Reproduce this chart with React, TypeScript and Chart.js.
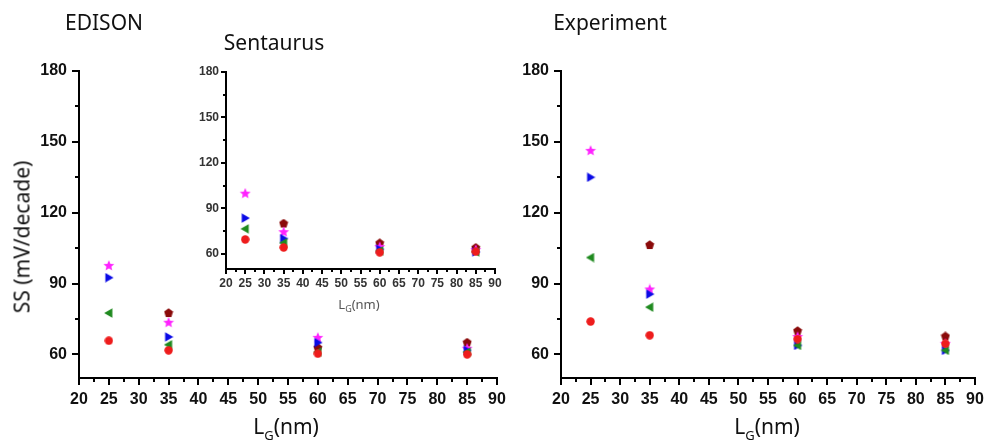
import React, { useEffect, useRef } from "react";
import { Chart, registerables } from "chart.js";

Chart.register(...registerables);

// Gate lengths (nm) at which SS was extracted
const gateLengths = [25, 35, 60, 85];

// Axis tick values
const xMajorTicks = [20, 25, 30, 35, 40, 45, 50, 55, 60, 65, 70, 75, 80, 85, 90];
const xMinorTicks = [22.5, 27.5, 32.5, 37.5, 42.5, 47.5, 52.5, 57.5, 62.5, 67.5, 72.5, 77.5, 82.5, 87.5];
const yMajorTicks = [60, 90, 120, 150, 180];
const yMinorTicks = [75, 105, 135, 165];

// EDISON simulation, SS (mV/decade)
const edisonRed = [65.8, 61.7, 60.3, 60.0];
const edisonGreen = [77.5, 64.1, 61.0, 61.0];
const edisonBlue = [92.5, 67.4, 65.0, 61.7];
const edisonMagenta = [97.5, 73.4, 67.0, 62.4];
const edisonMaroon = [null, 77.5, 62.8, 65.0];

// Sentaurus simulation, SS (mV/decade)
const sentaurusRed = [69.5, 64.2, 61.0, 61.5];
const sentaurusGreen = [76.5, 67.3, 62.0, 61.3];
const sentaurusBlue = [83.6, 70.1, 63.0, 61.3];
const sentaurusMagenta = [99.7, 74.3, 64.5, 62.5];
const sentaurusMaroon = [null, 80.0, 67.0, 64.0];

// Measured devices, SS (mV/decade)
const experimentRed = [73.9, 68.1, 66.5, 64.5];
const experimentGreen = [101.0, 80.0, 63.8, 61.7];
const experimentBlue = [135.0, 85.5, 63.8, 61.7];
const experimentMagenta = [146.2, 87.5, 67.4, 64.5];
const experimentMaroon = [null, 106.3, 69.9, 67.6];

const RED = "#ee1c1c";
const GREEN = "#1f8a1f";
const BLUE = "#0a0ae6";
const MAGENTA = "#ff22ff";
const MAROON = "#8a0a0a";

type Shape = "circle" | "left" | "right" | "star" | "pentagon";

function makeMarker(shape: Shape, color: string, size: number): HTMLCanvasElement {
  const c = document.createElement("canvas");
  c.width = size;
  c.height = size;
  const ctx = c.getContext("2d")!;
  ctx.fillStyle = color;
  const cx = size / 2;
  const cy = size / 2;
  const r = size / 2 - 0.3;
  ctx.beginPath();
  if (shape === "circle") {
    ctx.arc(cx, cy, r, 0, Math.PI * 2);
  } else if (shape === "left") {
    ctx.moveTo(cx - r, cy);
    ctx.lineTo(cx + r * 0.75, cy - r);
    ctx.lineTo(cx + r * 0.75, cy + r);
  } else if (shape === "right") {
    ctx.moveTo(cx + r, cy);
    ctx.lineTo(cx - r * 0.75, cy - r);
    ctx.lineTo(cx - r * 0.75, cy + r);
  } else if (shape === "star") {
    for (let i = 0; i < 10; i++) {
      const rr = i % 2 === 0 ? r : r * 0.45;
      const a = -Math.PI / 2 + (i * Math.PI) / 5;
      const px = cx + rr * Math.cos(a);
      const py = cy + rr * Math.sin(a);
      if (i === 0) ctx.moveTo(px, py);
      else ctx.lineTo(px, py);
    }
  } else {
    for (let i = 0; i < 5; i++) {
      const a = -Math.PI / 2 + (i * 2 * Math.PI) / 5;
      const px = cx + r * Math.cos(a);
      const py = cy + r * 1.02 * Math.sin(a);
      if (i === 0) ctx.moveTo(px, py);
      else ctx.lineTo(px, py);
    }
  }
  ctx.closePath();
  ctx.fill();
  return c;
}

function buildDatasets(series: (number | null)[][]) {
  const styles: [Shape, string, number][] = [
    ["circle", RED, 9],
    ["left", GREEN, 10],
    ["right", BLUE, 10],
    ["star", MAGENTA, 12],
    ["pentagon", MAROON, 10],
  ];
  return series.map((vals, i) => {
    const [shape, color, size] = styles[i];
    return {
      data: gateLengths.map((x, j) => ({ x, y: vals[j] })),
      pointStyle: makeMarker(shape, color, size),
      showLine: false,
      borderColor: color,
      backgroundColor: color,
    };
  });
}

// Origin-style outward tick marks (major + minor)
const axisTicks = {
  id: "axisTicks",
  afterDraw(chart: any, _args: any, opts: any) {
    const { ctx } = chart;
    const xs = chart.scales.x;
    const ys = chart.scales.y;
    ctx.save();
    ctx.strokeStyle = "#000";
    ctx.lineWidth = opts.width;
    const bottom = chart.chartArea.bottom;
    const left = chart.chartArea.left;
    const drawX = (v: number, len: number) => {
      const px = Math.round(xs.getPixelForValue(v));
      ctx.beginPath();
      ctx.moveTo(px, bottom);
      ctx.lineTo(px, bottom + len);
      ctx.stroke();
    };
    const drawY = (v: number, len: number) => {
      const py = Math.round(ys.getPixelForValue(v));
      ctx.beginPath();
      ctx.moveTo(left, py);
      ctx.lineTo(left - len, py);
      ctx.stroke();
    };
    xMajorTicks.forEach((v) => drawX(v, opts.major));
    xMinorTicks.forEach((v) => drawX(v, opts.minor));
    yMajorTicks.forEach((v) => drawY(v, opts.major));
    yMinorTicks.forEach((v) => drawY(v, opts.minor));
    ctx.restore();
  },
};

interface PanelProps {
  series: (number | null)[][];
  left: number;
  top: number;
  width: number;
  height: number;
  pad: { left: number; top: number; right: number; bottom: number };
  fontSize: number;
  labelPad: number;
  labelColor: string;
  tickMajor: number;
  tickMinor: number;
}

function Panel(p: PanelProps) {
  const ref = useRef<HTMLCanvasElement>(null);
  useEffect(() => {
    const font = { family: "'Liberation Sans', Arial, sans-serif", size: p.fontSize, weight: "bold" as const };
    // invisible tick marks provide the label gap (drawn ticks come from the plugin)
    const hiddenTicks = {
      drawOnChartArea: false,
      drawTicks: true,
      tickLength: p.labelPad,
      tickColor: "rgba(0,0,0,0)",
      color: "rgba(0,0,0,0)",
    };
    const chart = new Chart(ref.current!, {
      type: "scatter",
      data: { datasets: buildDatasets(p.series) as any },
      plugins: [axisTicks],
      options: {
        responsive: false,
        animation: false,
        layout: { padding: { left: 0, top: p.pad.top, right: p.pad.right, bottom: 0 } },
        plugins: {
          legend: { display: false },
          tooltip: { enabled: false },
          axisTicks: { width: 2, major: p.tickMajor, minor: p.tickMinor },
        } as any,
        elements: { point: { radius: 4, hoverRadius: 4 } },
        scales: {
          x: {
            type: "linear",
            min: 20,
            max: 90,
            afterBuildTicks: (s: any) => {
              s.ticks = xMajorTicks.map((v) => ({ value: v }));
            },
            afterFit: (s: any) => {
              s.height = p.pad.bottom;
              s.paddingLeft = 0;
              s.paddingRight = 0;
            },
            ticks: {
              autoSkip: false,
              maxRotation: 0,
              padding: 0,
              color: p.labelColor,
              font,
              callback: (v: any) => String(v),
            },
            grid: hiddenTicks,
            border: { display: true, color: "#000", width: 2 },
          },
          y: {
            type: "linear",
            min: 50,
            max: 180,
            afterBuildTicks: (s: any) => {
              s.ticks = yMajorTicks.map((v) => ({ value: v }));
            },
            afterFit: (s: any) => {
              s.width = p.pad.left;
              s.paddingTop = 0;
              s.paddingBottom = 0;
            },
            ticks: {
              padding: 0,
              color: p.labelColor,
              font,
              callback: (v: any) => String(v),
            },
            grid: hiddenTicks,
            border: { display: true, color: "#000", width: 2 },
          },
        },
      },
    });
    return () => chart.destroy();
  }, []);
  return (
    <canvas
      ref={ref}
      width={p.width}
      height={p.height}
      style={{ position: "absolute", left: p.left, top: p.top, width: p.width, height: p.height }}
    />
  );
}

const textFont = "'Noto Sans', 'Liberation Sans', Arial, sans-serif";

function Label(props: { x: number; y: number; size: number; color?: string; rotate?: boolean; children: React.ReactNode }) {
  return (
    <div
      style={{
        position: "absolute",
        left: props.x,
        top: props.y,
        transform: `translate(-50%, -50%)${props.rotate ? " rotate(-90deg)" : ""}`,
        fontFamily: textFont,
        fontSize: props.size,
        lineHeight: `${props.size}px`,
        color: props.color || "#111",
        whiteSpace: "nowrap",
      }}
    >
      {props.children}
    </div>
  );
}

function GateLabel(props: { x: number; y: number; size: number; sub: number; shift: number; color?: string }) {
  return (
    <Label x={props.x} y={props.y} size={props.size} color={props.color}>
      L<span style={{ fontSize: props.sub, position: "relative", top: props.shift }}>G</span>(nm)
    </Label>
  );
}

export default function App() {
  return (
    <div style={{ position: "absolute", left: 0, top: 0, width: 986, height: 444, background: "#fff", overflow: "hidden" }}>
      <Panel
        series={[edisonRed, edisonGreen, edisonBlue, edisonMagenta, edisonMaroon]}
        left={0}
        top={0}
        width={510}
        height={444}
        pad={{ left: 79, top: 71, right: 13, bottom: 66 }}
        fontSize={16}
        labelPad={12}
        labelColor="#111"
        tickMajor={7}
        tickMinor={4}
      />
      <Panel
        series={[experimentRed, experimentGreen, experimentBlue, experimentMagenta, experimentMaroon]}
        left={500}
        top={0}
        width={486}
        height={444}
        pad={{ left: 61, top: 71, right: 11, bottom: 66 }}
        fontSize={16}
        labelPad={12}
        labelColor="#111"
        tickMajor={7}
        tickMinor={4}
      />
      <Panel
        series={[sentaurusRed, sentaurusGreen, sentaurusBlue, sentaurusMagenta, sentaurusMaroon]}
        left={180}
        top={55}
        width={330}
        height={240}
        pad={{ left: 46, top: 17, right: 15, bottom: 26 }}
        fontSize={12}
        labelPad={7}
        labelColor="#333"
        tickMajor={5}
        tickMinor={3}
      />
      <Label x={104} y={22} size={21}>EDISON</Label>
      <Label x={274} y={42} size={21}>Sentaurus</Label>
      <Label x={610} y={22} size={21}>Experiment</Label>
      <Label x={22} y={237} size={21} rotate>SS (mV/decade)</Label>
      <GateLabel x={286} y={428} size={21} sub={13} shift={6} />
      <GateLabel x={767} y={428} size={21} sub={13} shift={6} />
      <GateLabel x={359} y={305} size={13} sub={9} shift={3} color="#555" />
    </div>
  );
}
